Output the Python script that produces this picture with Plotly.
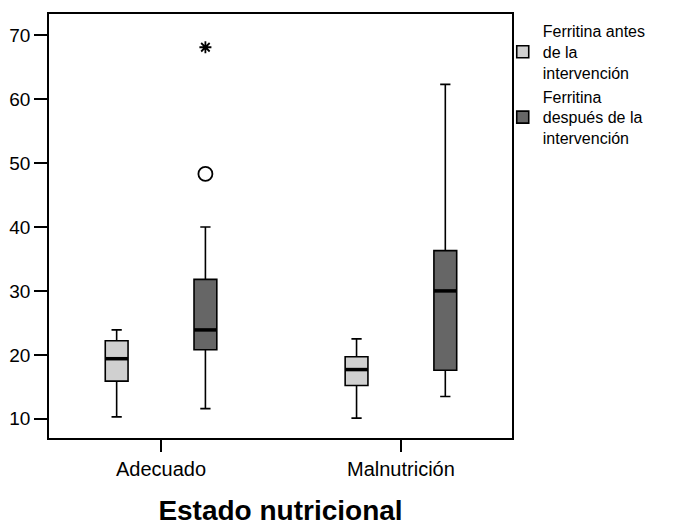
import plotly.graph_objects as go

# ---- data ----
categories = ["Adecuado", "Malnutrición"]
series_names = ["Ferritina antes<br>de la<br>intervención",
                "Ferritina<br>después de la<br>intervención"]
antes_lower = [10.3, 10.1]
antes_q1 = [15.9, 15.2]
antes_median = [19.4, 17.7]
antes_q3 = [22.2, 19.7]
antes_upper = [23.9, 22.5]
despues_lower = [11.6, 13.5]
despues_q1 = [20.8, 17.6]
despues_median = [23.9, 30.0]
despues_q3 = [31.8, 36.3]
despues_upper = [40.0, 62.3]
outlier_category = ["Adecuado"]
outlier_values = [48.3]          # circle (outlier), después
extreme_category = ["Adecuado"]
extreme_values = [68.1]          # asterisk (extreme), después
y_ticks = [10, 20, 30, 40, 50, 60, 70]

# ---- styling ----
FONT = "Liberation Sans, Arial, sans-serif"
colors = ["#d0d0d0", "#666666"]
offsets = [-0.185, 0.185]
box_w = 0.095

series = [
    (antes_lower, antes_q1, antes_median, antes_q3, antes_upper),
    (despues_lower, despues_q1, despues_median, despues_q3, despues_upper),
]

idx = {c: i for i, c in enumerate(categories)}
fig = go.Figure()
for s, (lo, q1, med, q3, up) in enumerate(series):
    xs = [idx[c] + offsets[s] for c in categories]
    fig.add_trace(go.Box(
        x=xs, lowerfence=lo, q1=q1, median=med, q3=q3, upperfence=up,
        name=series_names[s], width=box_w, whiskerwidth=0.45,
        fillcolor=colors[s], line=dict(color="black", width=1.6),
        boxpoints=False, hoverinfo="skip", showlegend=True,
    ))
    # thick median lines
    for i, c in enumerate(categories):
        x0 = idx[c] + offsets[s]
        fig.add_trace(go.Scatter(
            x=[x0 - box_w / 2, x0 + box_w / 2], y=[med[i], med[i]],
            mode="lines", line=dict(color="black", width=3.5),
            showlegend=False, hoverinfo="skip"))

fig.add_trace(go.Scatter(
    x=[idx[c] + offsets[1] for c in outlier_category], y=outlier_values,
    mode="markers", marker=dict(symbol="circle-open", size=14, color="black",
                                line=dict(width=1.8, color="black")),
    showlegend=False, hoverinfo="skip"))
fig.add_trace(go.Scatter(
    x=[idx[c] + offsets[1] for c in extreme_category], y=extreme_values,
    mode="markers", marker=dict(symbol="asterisk-open", size=10, color="black",
                                line=dict(width=1.8, color="black")),
    showlegend=False, hoverinfo="skip"))

fig.update_layout(
    width=678, height=527,
    margin=dict(l=49, r=166, t=14, b=89),
    paper_bgcolor="white", plot_bgcolor="white",
    font=dict(family=FONT, color="black", size=17),
    legend=dict(x=0.98, y=1.0, xanchor="left", yanchor="top",
                font=dict(family=FONT, size=16, color="black"),
                tracegroupgap=6, itemwidth=30, bgcolor="rgba(0,0,0,0)"),
    showlegend=True,
)
fig.update_xaxes(
    range=[-0.467, 1.463], tickvals=list(range(len(categories))), ticktext=categories,
    ticks="outside", ticklen=12, tickwidth=1.6, tickcolor="black",
    showline=True, linecolor="black", linewidth=1.6, mirror=True,
    showgrid=False, zeroline=False, automargin=False,
    tickfont=dict(family=FONT, size=20),
    title=dict(text="<b>Estado nutricional</b>", font=dict(family=FONT, size=28), standoff=22),
)
fig.update_yaxes(
    range=[7.0, 73.3], tickvals=y_ticks,
    ticks="outside", ticklen=13, tickwidth=1.6, tickcolor="black",
    showline=True, linecolor="black", linewidth=1.6, mirror=True,
    showgrid=False, zeroline=False, automargin=False,
    tickfont=dict(family=FONT, size=19),
)
fig.write_html("out.html")
